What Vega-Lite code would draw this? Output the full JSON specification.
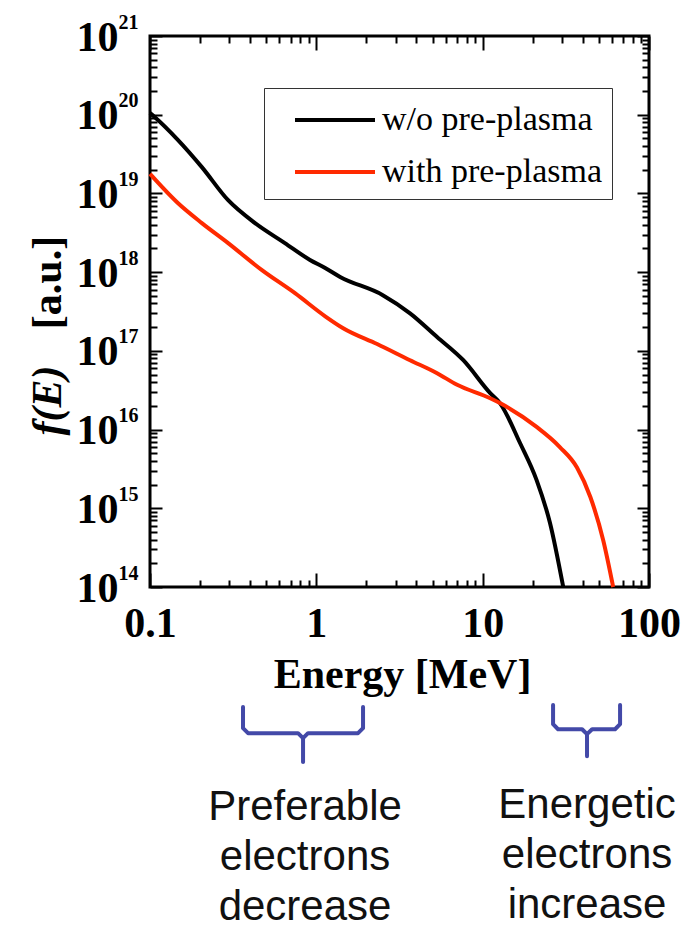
{
  "$schema": "https://vega.github.io/schema/vega-lite/v6.json",
  "width": 499,
  "height": 551,
  "autosize": "none",
  "padding": {"left": 150, "top": 36, "right": 48, "bottom": 344},
  "background": "white",
  "config": {
    "view": {"stroke": "black", "strokeWidth": 3},
    "axis": {
      "grid": false,
      "ticks": true,
      "domain": false,
      "tickColor": "black",
      "tickWidth": 2,
      "labelColor": "black",
      "titleColor": "black",
      "labelOverlap": false,
      "labelBound": false,
      "labelFlush": false
    }
  },
  "datasets": {
    "spectra": [
      {"series": "w/o pre-plasma", "energy_MeV": 0.1, "f": 1.05e20},
      {"series": "w/o pre-plasma", "energy_MeV": 0.107, "f": 9.3e19},
      {"series": "w/o pre-plasma", "energy_MeV": 0.147, "f": 4.8e19},
      {"series": "w/o pre-plasma", "energy_MeV": 0.205, "f": 2.16e19},
      {"series": "w/o pre-plasma", "energy_MeV": 0.295, "f": 8.2e18},
      {"series": "w/o pre-plasma", "energy_MeV": 0.428, "f": 4.2e18},
      {"series": "w/o pre-plasma", "energy_MeV": 0.647, "f": 2.34e18},
      {"series": "w/o pre-plasma", "energy_MeV": 0.916, "f": 1.43e18},
      {"series": "w/o pre-plasma", "energy_MeV": 1.13, "f": 1.13e18},
      {"series": "w/o pre-plasma", "energy_MeV": 1.39, "f": 8.7e17},
      {"series": "w/o pre-plasma", "energy_MeV": 2.51, "f": 5.1e17},
      {"series": "w/o pre-plasma", "energy_MeV": 3.66, "f": 3.0e17},
      {"series": "w/o pre-plasma", "energy_MeV": 5.32, "f": 1.5e17},
      {"series": "w/o pre-plasma", "energy_MeV": 7.65, "f": 7.6e16},
      {"series": "w/o pre-plasma", "energy_MeV": 11.1, "f": 2.9e16},
      {"series": "w/o pre-plasma", "energy_MeV": 12.7, "f": 2.17e16},
      {"series": "w/o pre-plasma", "energy_MeV": 16.8, "f": 6.7e15},
      {"series": "w/o pre-plasma", "energy_MeV": 21.1, "f": 2.28e15},
      {"series": "w/o pre-plasma", "energy_MeV": 25.4, "f": 6.5e14},
      {"series": "w/o pre-plasma", "energy_MeV": 30.5, "f": 1.0e14},
      {"series": "with pre-plasma", "energy_MeV": 0.1, "f": 1.77e19},
      {"series": "with pre-plasma", "energy_MeV": 0.147, "f": 7.55e18},
      {"series": "with pre-plasma", "energy_MeV": 0.205, "f": 4.2e18},
      {"series": "with pre-plasma", "energy_MeV": 0.295, "f": 2.34e18},
      {"series": "with pre-plasma", "energy_MeV": 0.471, "f": 1.06e18},
      {"series": "with pre-plasma", "energy_MeV": 0.744, "f": 5.4e17},
      {"series": "with pre-plasma", "energy_MeV": 1.13, "f": 2.75e17},
      {"series": "with pre-plasma", "energy_MeV": 1.45, "f": 1.94e17},
      {"series": "with pre-plasma", "energy_MeV": 2.32, "f": 1.22e17},
      {"series": "with pre-plasma", "energy_MeV": 3.66, "f": 7.6e16},
      {"series": "with pre-plasma", "energy_MeV": 5.32, "f": 5.2e16},
      {"series": "with pre-plasma", "energy_MeV": 7.02, "f": 3.7e16},
      {"series": "with pre-plasma", "energy_MeV": 11.1, "f": 2.5e16},
      {"series": "with pre-plasma", "energy_MeV": 12.7, "f": 2.17e16},
      {"series": "with pre-plasma", "energy_MeV": 21.1, "f": 1.08e16},
      {"series": "with pre-plasma", "energy_MeV": 29.1, "f": 6.0e15},
      {"series": "with pre-plasma", "energy_MeV": 36.9, "f": 3.3e15},
      {"series": "with pre-plasma", "energy_MeV": 44.4, "f": 1.39e15},
      {"series": "with pre-plasma", "energy_MeV": 53.1, "f": 3.9e14},
      {"series": "with pre-plasma", "energy_MeV": 60.9, "f": 1.0e14}
    ],
    "brackets": [
      {"bracket": "low", "step": 0, "energy_MeV": 0.3624, "f": 2.98e12},
      {"bracket": "low", "step": 1, "energy_MeV": 0.3624, "f": 1.61e12},
      {"bracket": "low", "step": 2, "energy_MeV": 0.3885, "f": 1.39e12},
      {"bracket": "low", "step": 3, "energy_MeV": 0.776, "f": 1.39e12},
      {"bracket": "low", "step": 4, "energy_MeV": 0.832, "f": 1.20e12},
      {"bracket": "low", "step": 5, "energy_MeV": 0.832, "f": 5.96e11},
      {"bracket": "low", "step": 6, "energy_MeV": 0.832, "f": 1.20e12},
      {"bracket": "low", "step": 7, "energy_MeV": 0.8915, "f": 1.39e12},
      {"bracket": "low", "step": 8, "energy_MeV": 1.781, "f": 1.39e12},
      {"bracket": "low", "step": 9, "energy_MeV": 1.909, "f": 1.61e12},
      {"bracket": "low", "step": 10, "energy_MeV": 1.909, "f": 2.98e12},
      {"bracket": "high", "step": 0, "energy_MeV": 26.5, "f": 3.16e12},
      {"bracket": "high", "step": 1, "energy_MeV": 26.5, "f": 1.81e12},
      {"bracket": "high", "step": 2, "energy_MeV": 28.4, "f": 1.56e12},
      {"bracket": "high", "step": 3, "energy_MeV": 39.6, "f": 1.56e12},
      {"bracket": "high", "step": 4, "energy_MeV": 42.4, "f": 1.35e12},
      {"bracket": "high", "step": 5, "energy_MeV": 42.4, "f": 7.10e11},
      {"bracket": "high", "step": 6, "energy_MeV": 42.4, "f": 1.35e12},
      {"bracket": "high", "step": 7, "energy_MeV": 45.5, "f": 1.56e12},
      {"bracket": "high", "step": 8, "energy_MeV": 62.5, "f": 1.56e12},
      {"bracket": "high", "step": 9, "energy_MeV": 67.0, "f": 1.81e12},
      {"bracket": "high", "step": 10, "energy_MeV": 67.0, "f": 3.16e12}
    ],
    "notes": [
      {"energy_MeV": 0.855, "f": 1.09e11, "lines": ["Preferable", "electrons", "decrease"]},
      {"energy_MeV": 42.4, "f": 1.16e11, "lines": ["Energetic", "electrons", "increase"]}
    ]
  },
  "layer": [
    {
      "data": {"name": "spectra"},
      "mark": {"type": "line", "strokeWidth": 4, "interpolate": "monotone"},
      "encoding": {
        "x": {
          "field": "energy_MeV",
          "type": "quantitative",
          "scale": {"type": "log", "domain": [0.1, 100], "nice": false},
          "axis": {
            "orient": "bottom",
            "offset": -14,
            "values": [0.1, 1, 10, 100],
            "format": "~g",
            "tickSize": 14,
            "labelPadding": 16,
            "labelBaseline": "top",
            "labelFont": "Liberation Serif",
            "labelFontSize": 42,
            "labelFontWeight": "bold",
            "title": "Energy [MeV]",
            "titleFont": "Liberation Serif",
            "titleFontSize": 42,
            "titleFontWeight": "bold",
            "titleBaseline": "alphabetic",
            "titleX": 252,
            "titleY": 114
          }
        },
        "y": {
          "field": "f",
          "type": "quantitative",
          "scale": {"type": "log", "domain": [1e14, 1e21], "nice": false},
          "axis": {
            "orient": "left",
            "offset": -12,
            "values": [1e14, 1e15, 1e16, 1e17, 1e18, 1e19, 1e20, 1e21],
            "labelExpr": "'10'",
            "tickSize": 12,
            "labelPadding": 32,
            "labelAlign": "right",
            "labelBaseline": "alphabetic",
            "labelOffset": 14,
            "labelFont": "Liberation Serif",
            "labelFontSize": 42,
            "labelFontWeight": "bold",
            "title": "[a.u.]",
            "titleFont": "Liberation Serif",
            "titleFontSize": 42,
            "titleFontWeight": "bold",
            "titleAngle": -90,
            "titleAlign": "center",
            "titleBaseline": "middle",
            "titleX": -115,
            "titleY": 246
          }
        },
        "color": {
          "field": "series",
          "type": "nominal",
          "scale": {"domain": ["w/o pre-plasma", "with pre-plasma"], "range": ["black", "#ff2a00"]},
          "legend": {
            "orient": "none",
            "legendX": 114,
            "legendY": 52,
            "direction": "vertical",
            "title": null,
            "symbolType": "M-2,0H2",
            "symbolSize": 1600,
            "symbolStrokeWidth": 4,
            "symbolOffset": 39,
            "labelFont": "Liberation Serif",
            "labelFontSize": 34,
            "labelColor": "black",
            "labelOffset": 25,
            "labelLimit": 0,
            "strokeColor": "#333",
            "fillColor": "white",
            "padding": 10,
            "rowPadding": 13
          }
        }
      }
    },
    {
      "data": {"name": "brackets"},
      "mark": {"type": "line", "strokeWidth": 4, "color": "#4349a8", "clip": false, "strokeJoin": "round", "strokeCap": "round"},
      "encoding": {
        "x": {
          "field": "energy_MeV",
          "type": "quantitative",
          "scale": {"type": "log", "domain": [0.1, 100], "nice": false},
          "axis": {"orient": "top", "offset": -14, "values": [0.1, 1, 10, 100], "labels": false, "tickSize": 14, "title": null}
        },
        "y": {
          "field": "f",
          "type": "quantitative",
          "scale": {"type": "log", "domain": [1e14, 1e21], "nice": false},
          "axis": {"orient": "right", "offset": -12, "values": [1e14, 1e15, 1e16, 1e17, 1e18, 1e19, 1e20, 1e21], "labels": false, "tickSize": 12, "title": null}
        },
        "detail": {"field": "bracket", "type": "nominal"},
        "order": {"field": "step", "type": "quantitative"}
      }
    },
    {
      "data": {"name": "notes"},
      "mark": {"type": "text", "font": "Liberation Sans", "fontSize": 42, "lineHeight": 50, "align": "center", "baseline": "alphabetic", "color": "#111", "clip": false},
      "encoding": {
        "x": {
          "field": "energy_MeV",
          "type": "quantitative",
          "scale": {"type": "log", "domain": [0.1, 100], "nice": false},
          "axis": {
            "orient": "bottom",
            "offset": -7,
            "values": [0.2, 0.3, 0.4, 0.5, 0.6, 0.7, 0.8, 0.9, 2, 3, 4, 5, 6, 7, 8, 9, 20, 30, 40, 50, 60, 70, 80, 90],
            "labels": false,
            "tickSize": 7,
            "title": null
          }
        },
        "y": {
          "field": "f",
          "type": "quantitative",
          "scale": {"type": "log", "domain": [1e14, 1e21], "nice": false},
          "axis": {
            "orient": "left",
            "values": [1e14, 1e15, 1e16, 1e17, 1e18, 1e19, 1e20, 1e21],
            "ticks": false,
            "labelExpr": "toString(round(log(datum.value) / LN10))",
            "labelAlign": "left",
            "labelBaseline": "alphabetic",
            "labelOffset": -8,
            "labelPadding": 32,
            "labelFont": "Liberation Serif",
            "labelFontSize": 20,
            "labelFontWeight": "bold",
            "title": "f(E)",
            "titleFont": "Liberation Serif",
            "titleFontSize": 42,
            "titleFontWeight": "bold",
            "titleFontStyle": "italic",
            "titleAngle": -90,
            "titleAlign": "center",
            "titleBaseline": "middle",
            "titleX": -103,
            "titleY": 364
          }
        },
        "text": {"field": "lines"}
      }
    },
    {
      "data": {"name": "spectra"},
      "mark": {"type": "point", "opacity": 0},
      "encoding": {
        "x": {
          "field": "energy_MeV",
          "type": "quantitative",
          "scale": {"type": "log", "domain": [0.1, 100], "nice": false},
          "axis": {
            "orient": "top",
            "offset": -7,
            "values": [0.2, 0.3, 0.4, 0.5, 0.6, 0.7, 0.8, 0.9, 2, 3, 4, 5, 6, 7, 8, 9, 20, 30, 40, 50, 60, 70, 80, 90],
            "labels": false,
            "tickSize": 7,
            "title": null
          }
        },
        "y": {
          "field": "f",
          "type": "quantitative",
          "scale": {"type": "log", "domain": [1e14, 1e21], "nice": false},
          "axis": {
            "orient": "left",
            "offset": -7,
            "values": [2e14, 3e14, 4e14, 5e14, 6e14, 7e14, 8e14, 9e14, 2e15, 3e15, 4e15, 5e15, 6e15, 7e15, 8e15, 9e15, 2e16, 3e16, 4e16, 5e16, 6e16, 7e16, 8e16, 9e16, 2e17, 3e17, 4e17, 5e17, 6e17, 7e17, 8e17, 9e17, 2e18, 3e18, 4e18, 5e18, 6e18, 7e18, 8e18, 9e18, 2e19, 3e19, 4e19, 5e19, 6e19, 7e19, 8e19, 9e19, 2e20, 3e20, 4e20, 5e20, 6e20, 7e20, 8e20, 9e20],
            "labels": false,
            "tickSize": 7,
            "title": null
          }
        }
      }
    },
    {
      "data": {"name": "spectra"},
      "mark": {"type": "point", "opacity": 0},
      "encoding": {
        "x": {
          "field": "energy_MeV",
          "type": "quantitative",
          "scale": {"type": "log", "domain": [0.1, 100], "nice": false},
          "axis": null
        },
        "y": {
          "field": "f",
          "type": "quantitative",
          "scale": {"type": "log", "domain": [1e14, 1e21], "nice": false},
          "axis": {
            "orient": "right",
            "offset": -7,
            "values": [2e14, 3e14, 4e14, 5e14, 6e14, 7e14, 8e14, 9e14, 2e15, 3e15, 4e15, 5e15, 6e15, 7e15, 8e15, 9e15, 2e16, 3e16, 4e16, 5e16, 6e16, 7e16, 8e16, 9e16, 2e17, 3e17, 4e17, 5e17, 6e17, 7e17, 8e17, 9e17, 2e18, 3e18, 4e18, 5e18, 6e18, 7e18, 8e18, 9e18, 2e19, 3e19, 4e19, 5e19, 6e19, 7e19, 8e19, 9e19, 2e20, 3e20, 4e20, 5e20, 6e20, 7e20, 8e20, 9e20],
            "labels": false,
            "tickSize": 7,
            "title": null
          }
        }
      }
    }
  ],
  "resolve": {"axis": {"x": "independent", "y": "independent"}}
}
